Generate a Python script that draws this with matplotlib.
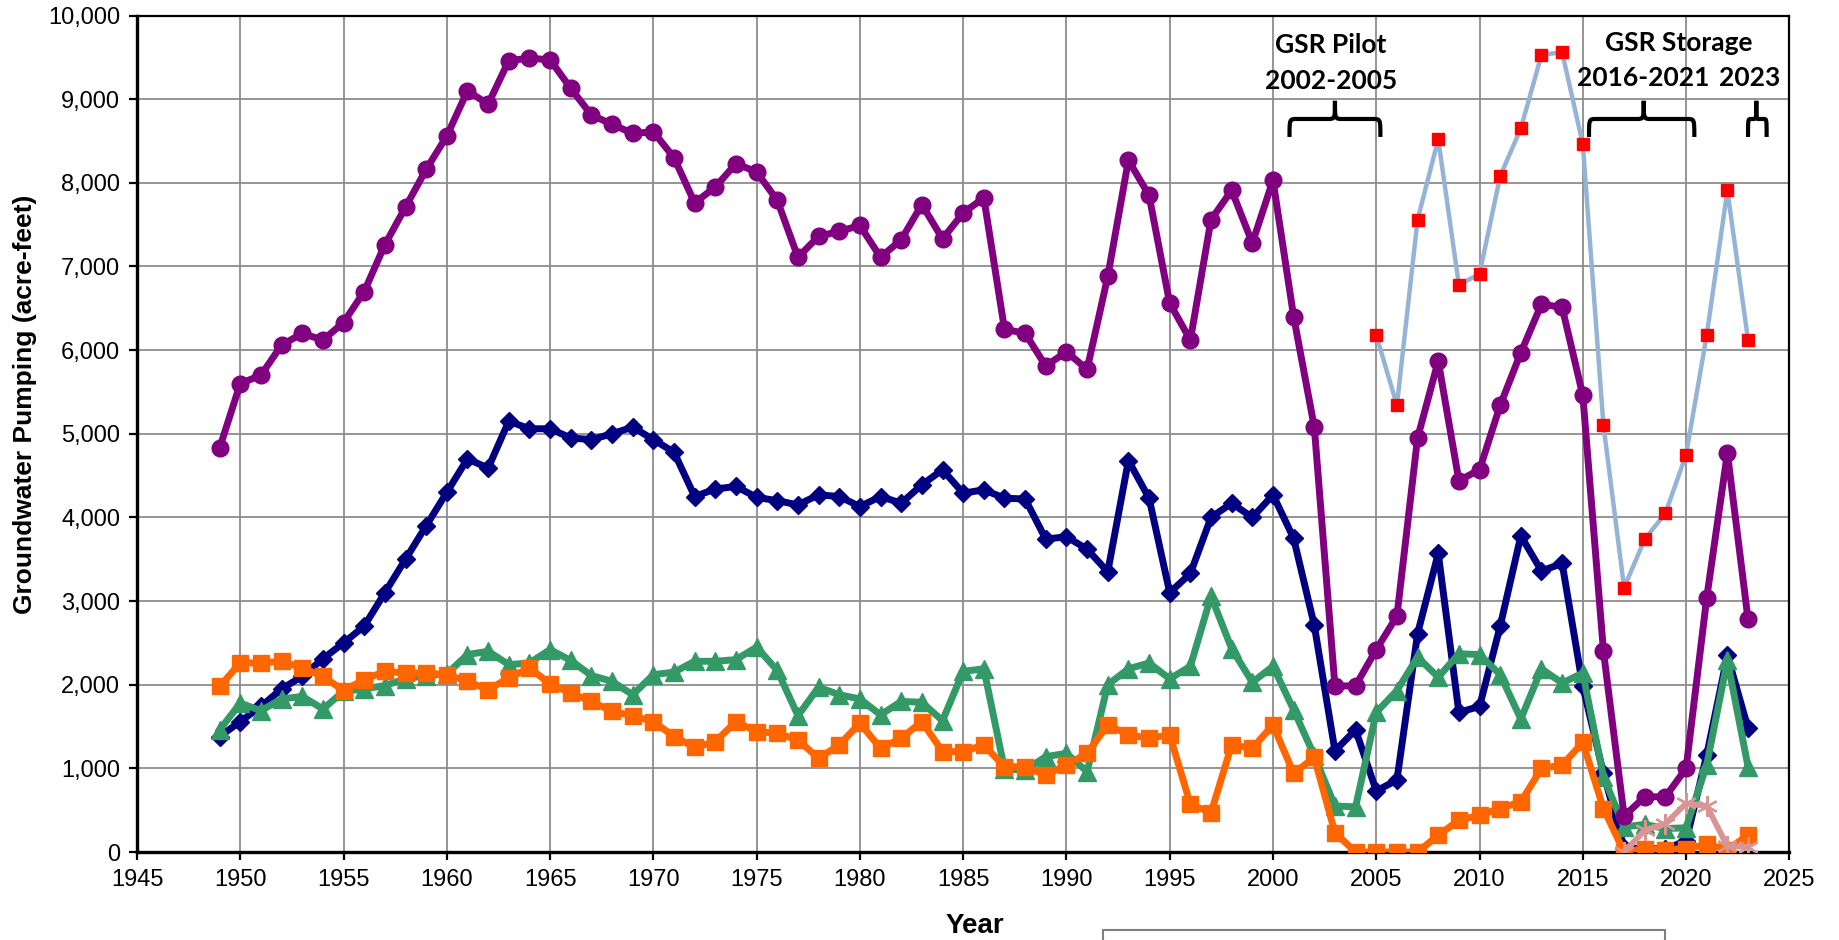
import matplotlib
matplotlib.use("Agg")
import matplotlib.pyplot as plt
from matplotlib.path import Path
from matplotlib.patches import PathPatch, Rectangle
import numpy as np

years = list(range(1949, 2024))

purple_vals = [4830, 5600, 5700, 6060, 6200, 6120, 6330, 6700, 7260, 7710,
               8160, 8560, 9100, 8940, 9460, 9490, 9470, 9130, 8810, 8700,
               8590, 8610, 8300, 7760, 7950, 8230, 8130, 7790, 7110, 7360,
               7420, 7490, 7110, 7320, 7740, 7330, 7640, 7820, 6250, 6200,
               5810, 5980, 5770, 6880, 8270, 7850, 6560, 6120, 7560, 7910,
               7280, 8030, 6400, 5080, 1980, 1990, 2420, 2820, 4950, 5870,
               4440, 4570, 5340, 5970, 6550, 6510, 5460, 2400, 430, 660,
               660, 1000, 3040, 4770, 2780]

navy_vals = [1380, 1560, 1740, 1950, 2100, 2310, 2500, 2700, 3100, 3500,
             3900, 4300, 4700, 4590, 5150, 5060, 5060, 4950, 4930, 5000,
             5080, 4930, 4780, 4250, 4340, 4370, 4240, 4200, 4150, 4270,
             4250, 4130, 4250, 4170, 4390, 4570, 4290, 4330, 4230, 4220,
             3740, 3770, 3620, 3350, 4680, 4230, 3100, 3330, 4000, 4170,
             4000, 4270, 3750, 2710, 1210, 1460, 730, 860, 2610, 3570,
             1670, 1740, 2700, 3780, 3360, 3450, 1980, 940, 50, 40,
             40, 130, 1160, 2350, 1480]

green_vals = [1460, 1780, 1690, 1830, 1860, 1710, 1920, 1950, 1990, 2070,
              2110, 2130, 2360, 2400, 2240, 2260, 2420, 2290, 2110, 2040,
              1880, 2120, 2150, 2280, 2280, 2300, 2450, 2170, 1630, 1970,
              1880, 1830, 1640, 1800, 1790, 1570, 2160, 2190, 990, 980,
              1140, 1180, 960, 2000, 2190, 2260, 2070, 2220, 3060, 2430,
              2030, 2220, 1700, 1150, 550, 540, 1670, 1930, 2330, 2090,
              2370, 2360, 2120, 1590, 2190, 2020, 2140, 900, 300, 330,
              280, 290, 1040, 2290, 1020]

orange_vals = [1980, 2260, 2260, 2280, 2200, 2100, 1930, 2060, 2160, 2140,
               2140, 2120, 2040, 1940, 2080, 2200, 2010, 1900, 1800, 1680,
               1630, 1560, 1380, 1250, 1320, 1560, 1440, 1420, 1340, 1120,
               1280, 1540, 1240, 1360, 1560, 1200, 1200, 1280, 1020, 1020,
               920, 1040, 1180, 1520, 1400, 1360, 1400, 570, 470, 1280,
               1240, 1520, 940, 1130, 230, 0, 0, 0, 0, 200,
               380, 440, 520, 600, 1000, 1040, 1310, 520, 0, 40,
               30, 40, 90, 30, 200]

blue_years = list(range(2005, 2024))
blue_vals = [6180, 5340, 7560, 8520, 6780, 6910, 8080, 8650, 9530, 9560,
             8460, 5100, 3160, 3740, 4050, 4750, 6180, 7910, 6120]

pink_years = list(range(2017, 2024))
pink_vals = [0, 260, 340, 580, 550, 70, 60]

xticks = list(range(1945, 2026, 5))
yticks = list(range(0, 10001, 1000))

annotations = [
    ("GSR Pilot", 2002.8, 9650),
    ("2002-2005", 2002.8, 9220),
    ("GSR Storage", 2019.65, 9670),
    ("2016-2021", 2017.9, 9250),
    ("2023", 2023.1, 9250),
]
braces = [(2000.8, 2005.2, 2003.0), (2015.3, 2020.4, 2017.95), (2023.0, 2023.9, 2023.4)]

plt.rcParams['font.family'] = ['Liberation Sans', 'DejaVu Sans']

fig = plt.figure(figsize=(18.39, 9.40), dpi=100)
ax = fig.add_axes([0.0745, 0.0936, 0.8985, 0.8899])

ax.set_xlim(1945, 2025)
ax.set_ylim(0, 10000)
ax.set_xticks(xticks)
ax.set_yticks(yticks)
ax.set_yticklabels([f"{v:,}" for v in yticks])
ax.grid(True, color='#8c8c8c', linewidth=1.3)
ax.set_axisbelow(True)
for s in ax.spines.values():
    s.set_color('black')
    s.set_linewidth(1.6)
ax.spines['left'].set_linewidth(2.4)
ax.spines['bottom'].set_linewidth(2.4)
ax.tick_params(axis='both', direction='out', length=6, width=1.6, labelsize=17, pad=6)

ax.plot(years, navy_vals, color='#000080', lw=5.0, marker='D', ms=9, zorder=3)
ax.plot(years, green_vals, color='#339966', lw=5.0, marker='^', ms=13, zorder=4)
ax.plot(years, orange_vals, color='#FF6600', lw=5.0, marker='s', ms=12, zorder=5)
ax.plot(years, purple_vals, color='#800080', lw=5.0, marker='o', ms=12, zorder=6)
ax.plot(blue_years, blue_vals, color='#95B3D7', lw=3.2, marker='s', ms=9,
        mfc='#FF0000', mec='#FF0000', zorder=7)
ax.plot(pink_years, pink_vals, color='#D99594', lw=4.2, marker=(6, 2, 0), ms=15,
        mew=1.6, zorder=8)

ax.set_ylabel("Groundwater Pumping (acre-feet)", fontsize=19, fontweight='bold',
              labelpad=8, y=0.535)
ax.set_xlabel("Year", fontsize=20, fontweight='bold', labelpad=16, x=0.507)

for txt, x, y in annotations:
    ax.text(x, y, txt, ha='center', va='center', fontsize=19, fontweight='bold',
            family=['Lato', 'DejaVu Sans'], zorder=9)

y_top, y_bar, y_bot = 8980, 8763, 8548
for x0, x1, xm in braces:
    rx = min(0.35, (xm - x0) * 0.35)
    verts = [(x0, y_bot), (x0, y_bar), (x0, y_bar), (x0 + rx, y_bar),
             (xm - rx, y_bar), (xm, y_bar), (xm, y_bar), (xm, y_top),
             (xm, y_bar), (xm, y_bar), (xm + rx, y_bar),
             (x1 - rx, y_bar), (x1, y_bar), (x1, y_bar), (x1, y_bot)]
    codes = [Path.MOVETO, Path.CURVE4, Path.CURVE4, Path.CURVE4,
             Path.LINETO, Path.CURVE4, Path.CURVE4, Path.CURVE4,
             Path.CURVE4, Path.CURVE4, Path.CURVE4,
             Path.LINETO, Path.CURVE4, Path.CURVE4, Path.CURVE4]
    ax.add_patch(PathPatch(Path(verts, codes), fill=False, lw=3.0, color='black',
                           zorder=9, clip_on=False))

fig.patches.append(Rectangle((1103 / 1839, -0.05), (1665 - 1103) / 1839, 0.05 + (940 - 930) / 940,
                             transform=fig.transFigure, fill=False, edgecolor='#7f7f7f', lw=1.5))

fig.savefig("out.png", dpi=100)
